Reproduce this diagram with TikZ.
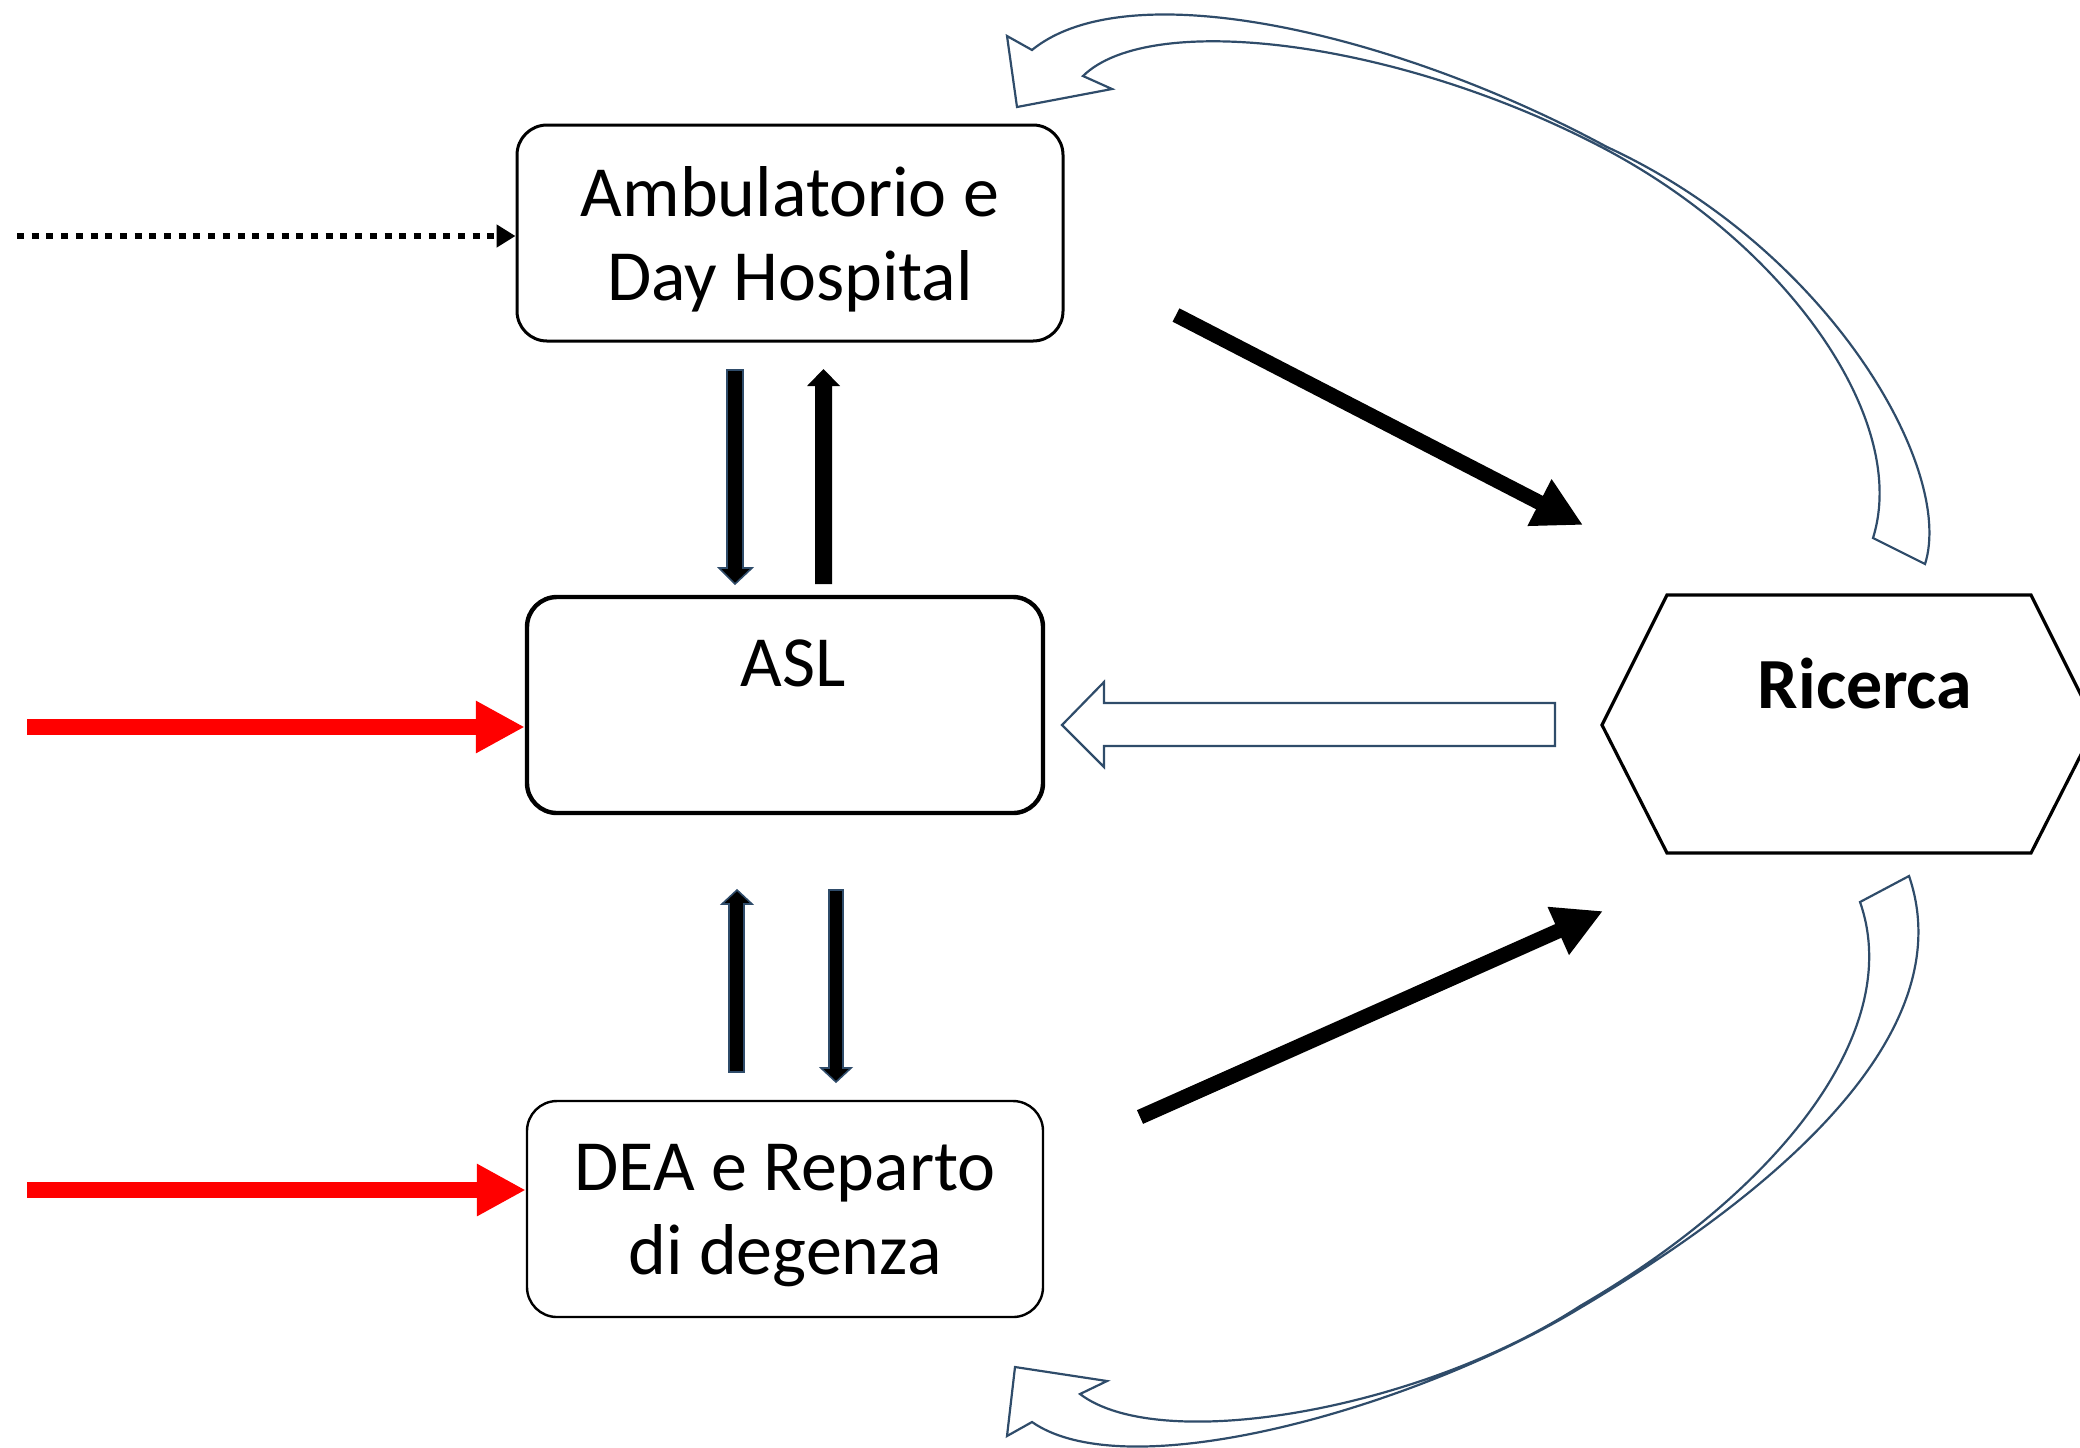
\documentclass[tikz,border=0pt]{standalone}
\usepackage{fontspec}
\setmainfont{Carlito}
\usetikzlibrary{arrows.meta}
\definecolor{slate}{RGB}{47,76,106}
\begin{document}
\begin{tikzpicture}[x=0.5pt,y=-0.5pt,
  box/.style={draw=black, rounded corners=15pt, inner sep=0pt, align=center,
    font=\fontsize{36}{42}\selectfont},
  lbl/.style={font=\fontsize{36}{42}\selectfont, align=center, inner sep=0pt},
  blk/.style={draw=slate, line width=0.8pt, fill=black, line join=miter},
  hollow/.style={draw=slate, line width=1.1pt, line join=miter},
  bigarrow/.style={draw=black, line width=7.5pt, -{Triangle[length=24.5pt,width=24.5pt]}},
  redarrow/.style={draw=red, line width=8pt, -{Triangle[length=24.5pt,width=24.5pt]}},
  dotarrow/.style={draw=black, line width=3pt, dash pattern=on 3.5pt off 3.85pt, -{Triangle[length=9.5pt,width=11pt]}}
]
\useasboundingbox (0,0) rectangle (2080,1447);

% boxes
\node[box, line width=1.5pt, minimum width=273pt, minimum height=108pt, text depth=0pt] (amb) at (790,233) {Ambulatorio e\\Day Hospital};
\node[box, line width=2.2pt, minimum width=258pt, minimum height=108pt] (asl) at (785,705) {};
\node[lbl] (asltxt) at (793,663) {ASL};
\node[box, line width=1.2pt, minimum width=258pt, minimum height=108pt, text depth=0pt] (dea) at (785,1209) {DEA e Reparto\\di degenza};

% hexagon
\draw[line width=1.6pt, line join=miter] (1602,725) -- (1667,595) -- (2031,595) -- (2096,725) -- (2031,853) -- (1667,853) -- cycle;
\node[lbl, font=\fontsize{36}{42}\selectfont\bfseries] (ric) at (1865,683) {Ricerca};

% input arrows
\coordinate (d0) at (17,236);
\draw[dotarrow] (d0) -- (amb.west |- d0);
\coordinate (r1) at (27,727);
\draw[redarrow] (r1) -- (asl.west |- r1);
\coordinate (r2) at (27,1190);
\draw[redarrow] (r2) -- (dea.west |- r2);

% vertical arrows, top pair
\draw[blk] (727,370) -- (743,370) -- (743,568) -- (752,568) -- (735,584) -- (719,568) -- (727,568) -- cycle;
\fill[black] (815,584) -- (832,584) -- (832,386) -- (840,386) -- (823.5,369) -- (807,386) -- (815,386) -- cycle;
% vertical arrows, bottom pair
\draw[blk] (729,1072) -- (744,1072) -- (744,904) -- (752,904) -- (737,890) -- (722,904) -- (729,904) -- cycle;
\draw[blk] (829,890) -- (843,890) -- (843,1068) -- (851,1068) -- (836,1082) -- (821,1068) -- (829,1068) -- cycle;

% diagonal arrows to Ricerca
\coordinate (t1) at (1176,315); \coordinate (h1) at (1583,525);
\draw[bigarrow] (t1) -- (h1);
\coordinate (t2) at (1140,1117); \coordinate (h2) at (1603,911);
\draw[bigarrow] (t2) -- (h2);

% hollow arrow Ricerca -> ASL
\draw[hollow] (1062,725) -- (1104,682) -- (1104,703) -- (1555,703) -- (1555,746) -- (1104,746) -- (1104,767) -- cycle;

% curved arrow top
\draw[hollow] (1873,538) -- (1925,564)
  .. controls (1955,470) and (1830,250) .. (1607,147)
  .. controls (1400,35) and (1130,-30) .. (1032,50)
  -- (1007,36) -- (1017,107) -- (1112,89) -- (1083,76)
  .. controls (1150,10) and (1400,40) .. (1607,150)
  .. controls (1787,246) and (1910,420) .. (1873,538)
  -- cycle;

% curved arrow bottom
\draw[hollow] (1860,902) -- (1909,876)
  .. controls (1955,1010) and (1830,1160) .. (1580,1308)
  .. controls (1420,1405) and (1130,1490) .. (1032,1422)
  -- (1007,1436) -- (1015,1367) -- (1107,1381) -- (1080,1394)
  .. controls (1160,1455) and (1420,1410) .. (1580,1306)
  .. controls (1780,1190) and (1905,1030) .. (1860,902)
  -- cycle;
\end{tikzpicture}
\end{document}
